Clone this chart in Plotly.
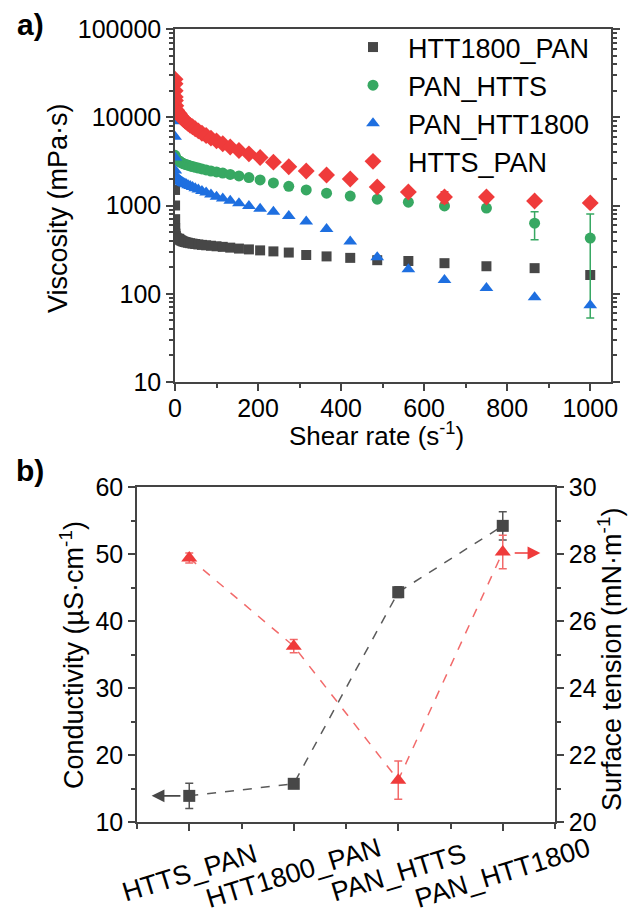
import plotly.graph_objects as go

W, H = 630, 918
FONT = "Liberation Sans, Arial, sans-serif"

# ---------------- panel a data ----------------
shear_rate = [0.1, 0.2, 0.4, 0.7, 1, 2, 4, 7,
              10, 11.5, 13.3, 15.4, 17.8, 20.5, 23.7, 27.4, 31.6, 36.5, 42.2, 48.7,
              56.2, 64.9, 75, 86.6, 100, 115, 133, 154, 178, 205, 237, 274, 316,
              365, 422, 487, 562, 649, 750, 866, 1000]

visc_htt1800_pan = [1500, 1000, 700, 550, 480, 450, 430, 420,
                    420, 410, 405, 400, 395, 390, 386, 382, 378, 374, 370, 366,
                    362, 358, 354, 350, 345, 340, 333, 325, 318, 310, 302, 293, 275,
                    265, 255, 240, 235, 222, 205, 195, 163]
visc_pan_htts = [3700, 3600, 3500, 3450, 3400, 3350, 3300, 3250,
                 3200, 3150, 3100, 3060, 3020, 2980, 2940, 2900, 2860, 2810, 2760, 2710,
                 2660, 2600, 2530, 2460, 2400, 2330, 2250, 2160, 2070, 1950, 1800, 1650, 1500,
                 1380, 1280, 1180, 1090, 990, 935, 630, 428]
visc_pan_htts_err = [0]*39 + [220, 375]
visc_pan_htt1800 = [9000, 6000, 3500, 2500, 2200, 2100, 2050, 2000,
                    1950, 1920, 1890, 1860, 1830, 1800, 1770, 1740, 1700, 1660, 1620, 1570,
                    1520, 1460, 1400, 1330, 1260, 1200, 1130, 1060, 990, 920, 850, 760, 660,
                    540, 390, 260, 190, 143, 116, 91, 74]
visc_htts_pan = [27000, 24000, 20000, 17000, 15500, 13500, 12000, 11300,
                 11000, 10600, 10300, 10000, 9700, 9400, 9100, 8800, 8500, 8100, 7800, 7400,
                 7000, 6600, 6200, 5800, 5400, 5000, 4600, 4200, 3850, 3500, 3100, 2750, 2460,
                 2220, 2000, 1620, 1420, 1250, 1250, 1125, 1070]
visc_htts_pan_err = [0]*37 + [180, 0, 0, 0]

# ---------------- panel b data ----------------
samples = ["HTTS_PAN", "HTT1800_PAN", "PAN_HTTS", "PAN_HTT1800"]
conductivity = [13.9, 15.7, 44.3, 54.2]
conductivity_err = [1.9, 0.5, 0.8, 2.1]
surface_tension = [27.88, 25.25, 21.25, 28.06]
surface_tension_err = [0.15, 0.2, 0.57, 0.5]

C_GRAY = "#474747"
C_GREEN = "#37a862"
C_BLUE = "#1e6fe0"
C_RED = "#ef3b3b"
C_RED_LIGHT = "#f26a6a"
AX = "#444444"

fig = go.Figure()

series = [
    ("HTT1800_PAN", visc_htt1800_pan, None, C_GRAY, "square", 10),
    ("PAN_HTTS", visc_pan_htts, visc_pan_htts_err, C_GREEN, "circle", 11),
    ("PAN_HTT1800", visc_pan_htt1800, None, C_BLUE, "triangle-up", 12),
    ("HTTS_PAN", visc_htts_pan, visc_htts_pan_err, C_RED, "diamond", 13),
]
for name, ys, err, col, sym, sz in series:
    kw = {}
    if err is not None:
        kw["error_y"] = dict(type="data", array=err, visible=True, color=col,
                             thickness=1.5, width=4)
    fig.add_trace(go.Scatter(x=shear_rate, y=ys, mode="markers", name=name,
                             marker=dict(symbol=sym, size=sz, color=col, line=dict(width=0)),
                             xaxis="x", yaxis="y", **kw))

x_idx = list(range(len(samples)))
fig.add_trace(go.Scatter(x=x_idx, y=conductivity, mode="lines+markers", showlegend=False,
                         line=dict(color="#5a5a5a", width=1.5, dash="dash"),
                         marker=dict(symbol="square", size=12, color=C_GRAY),
                         error_y=dict(type="data", array=conductivity_err, color="#555555",
                                      thickness=1.5, width=4),
                         xaxis="x2", yaxis="y2"))
fig.add_trace(go.Scatter(x=x_idx, y=surface_tension, mode="lines+markers", showlegend=False,
                         line=dict(color=C_RED_LIGHT, width=1.5, dash="dash"),
                         marker=dict(symbol="triangle-up", size=14, color=C_RED),
                         error_y=dict(type="data", array=surface_tension_err, color=C_RED_LIGHT,
                                      thickness=1.5, width=4),
                         xaxis="x2", yaxis="y3"))

tickfont = dict(family=FONT, size=25, color="black")
common = dict(showgrid=False, zeroline=False, linecolor=AX, linewidth=1.5,
              tickcolor=AX, tickwidth=1.5, ticklen=7, tickfont=tickfont, showline=True,
              automargin=False)

def px_x(p):
    return p / W

def px_y(p):
    return 1 - p / H

fig.update_layout(
    width=W, height=H, paper_bgcolor="white", plot_bgcolor="white",
    margin=dict(l=0, r=0, t=0, b=0, autoexpand=False),
    font=dict(family=FONT, color="black"),
    xaxis=dict(domain=[px_x(175), px_x(611)], anchor="y", range=[0, 1050],
               dtick=200, tick0=0, ticks="outside", mirror=True, ticklabelstandoff=-4,
               minor=dict(dtick=100, ticks="outside", ticklen=4, tickcolor=AX), **common),
    yaxis=dict(domain=[px_y(382), px_y(29)], anchor="x", type="log", range=[1, 5],
               dtick=1, tickformat="d", ticks="outside", mirror="ticks",
               minor=dict(dtick="D1", ticks="outside", ticklen=4, tickcolor=AX), **common),
    xaxis3=dict(overlaying="x", side="top", anchor="y", range=[0, 1050], dtick=200, tick0=0,
                ticks="inside", showticklabels=False, showline=False, showgrid=False,
                zeroline=False, tickcolor=AX, tickwidth=1.5, ticklen=7,
                minor=dict(dtick=100, ticks="inside", ticklen=4, tickcolor=AX)),
    xaxis2=dict(domain=[px_x(137), px_x(555)], anchor="y2", range=[-0.5, 3.5],
                dtick=1, tick0=0, ticks="outside", showticklabels=False, mirror=True,
                minor=dict(dtick=0.5, tick0=0, ticks="outside", ticklen=5, tickcolor=AX), **common),
    xaxis4=dict(overlaying="x2", side="top", anchor="y2", range=[-0.5, 3.5], dtick=1, tick0=0,
                ticks="inside", showticklabels=False, showline=False, showgrid=False,
                zeroline=False, tickcolor=AX, tickwidth=1.5, ticklen=7,
                minor=dict(dtick=0.5, tick0=0, ticks="inside", ticklen=5, tickcolor=AX)),
    yaxis2=dict(domain=[px_y(822), px_y(487)], anchor="x2", range=[10, 60], dtick=10,
                ticks="outside",
                minor=dict(dtick=5, ticks="outside", ticklen=4, tickcolor=AX), **common),
    yaxis3=dict(overlaying="y2", side="right", anchor="x2", range=[20, 30], dtick=2,
                ticks="outside",
                minor=dict(dtick=1, ticks="outside", ticklen=4, tickcolor=AX), **common),
    legend=dict(x=px_x(338), xanchor="left", y=px_y(23), yanchor="top",
                bgcolor="rgba(0,0,0,0)", font=dict(family=FONT, size=27, color="black"),
                itemwidth=60, tracegroupgap=0),
)

def label(text, xp, yp, size=27, angle=0):
    return dict(text=text, x=px_x(xp), y=px_y(yp), xref="paper", yref="paper",
                xanchor="center", yanchor="middle", showarrow=False, textangle=angle,
                font=dict(family=FONT, size=size, color="black"))

ann = [
    label("<b>a)</b>", 30, 24, size=30),
    label("<b>b)</b>", 30, 470, size=30),
    label("Viscosity (mPa·s)", 58, 208, angle=-90),
    label("Shear rate (s<sup>-1</sup>)", 376, 434, size=26),
    label("Conductivity (µS·cm<sup>-1</sup>)", 72, 655, angle=-90),
    label("Surface tension (mN·m<sup>-1</sup>)", 610, 660, angle=-90),
]
for i, s in enumerate(samples):
    ann.append(dict(text=s, x=i, y=px_y(873), xref="x2", yref="paper", showarrow=False,
                    xanchor="center", yanchor="middle", textangle=-17,
                    font=dict(family=FONT, size=27, color="black")))
# direction arrows
ann.append(dict(text="", x=-0.36, y=conductivity[0], xref="x2", yref="y2",
                ax=-0.07, ay=conductivity[0], axref="x2", ayref="y2", showarrow=True,
                arrowhead=2, arrowsize=1.6, arrowwidth=1.6, arrowcolor=C_GRAY))
ann.append(dict(text="", x=3.36, y=28.03, xref="x2", yref="y3",
                ax=3.1, ay=28.03, axref="x2", ayref="y3", showarrow=True,
                arrowhead=2, arrowsize=1.6, arrowwidth=1.6, arrowcolor=C_RED))
fig.update_layout(annotations=ann)

fig.write_html("out.html", config={"displayModeBar": False},
               post_script="document.body.style.margin='0';document.body.style.overflow='hidden';")
